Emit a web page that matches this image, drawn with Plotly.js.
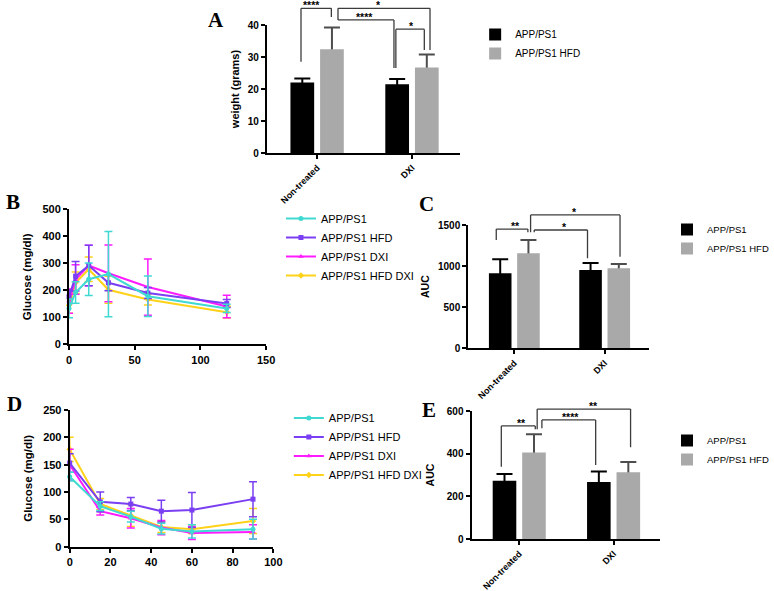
<!DOCTYPE html>
<html>
<head>
<meta charset="utf-8">
<script src="https://cdn.plot.ly/plotly-3.0.1.min.js"></script>
<style>html,body{margin:0;padding:0;background:#fff}#chart{width:774px;height:591px}</style>
</head>
<body>
<div id="chart"></div>
<script>
// ---------------- DATA ----------------
// bar panels (A, C, E)
const groups = ["Non-treated", "DXI"];
const barNames = ["APP/PS1", "APP/PS1 HFD"];

// Panel A: body weight (grams)
const weightAPP = [22.0, 21.5];
const weightAPPerr = [1.3, 1.6];
const weightHFD = [32.4, 26.7];
const weightHFDerr = [6.8, 4.1];

// Panel B: glucose tolerance test (mg/dl)
const lineNames = ["APP/PS1", "APP/PS1 HFD", "APP/PS1 DXI", "APP/PS1 HFD DXI"];
const gttTime = [0, 5, 15, 30, 60, 120];
const gttAPP = [133, 192, 241, 260, 178, 133];
const gttAPPerr = [35, 40, 60, 158, 75, 15];
const gttHFD = [176, 252, 292, 228, 190, 151];
const gttHFDerr = [25, 55, 75, 30, 20, 15];
const gttDXI = [160, 240, 292, 263, 212, 140];
const gttDXIerr = [45, 55, 75, 105, 104, 42];
const gttHFDDXI = [145, 228, 278, 202, 166, 119];
const gttHFDDXIerr = [30, 40, 45, 50, 20, 22];

// Panel C: GTT area under curve
const aucGttAPP = [912, 953];
const aucGttAPPerr = [171, 85];
const aucGttHFD = [1156, 973];
const aucGttHFDerr = [162, 53];

// Panel D: insulin tolerance test (mg/dl)
const ittTime = [0, 15, 30, 45, 60, 90];
const ittAPP = [128, 74, 55, 33, 28, 32];
const ittAPPerr = [8, 8, 10, 10, 12, 18];
const ittHFD = [153, 82, 78, 65, 67, 87];
const ittHFDerr = [17, 18, 12, 20, 32, 32];
const ittDXI = [150, 65, 52, 35, 25, 27];
const ittDXIerr = [28, 7, 18, 13, 12, 13];
const ittHFDDXI = [178, 78, 57, 36, 32, 47];
const ittHFDDXIerr = [22, 10, 20, 10, 8, 23];

// Panel E: ITT area under curve
const aucIttAPP = [273, 267];
const aucIttAPPerr = [32, 49];
const aucIttHFD = [406, 313];
const aucIttHFDerr = [85, 48];

// significance brackets: [x0, x1, yTop, yLeftEnd, yRightEnd, label, labelX]
const sigA = [
  [-0.17, 0.15, 45.2, 28.5, 42.5, "****", -0.06],
  [0.22, 1.19, 45.2, 42.5, 32.2, "*", 0.65],
  [0.22, 0.81, 41.6, 42.5, 26.6, "****", 0.50],
  [0.83, 1.13, 38.7, 26.6, 32.2, "*", 0.99]
];
const sigC = [
  [-0.20, 0.15, 1451, 1318, 1411, "**", 0.01],
  [0.18, 1.17, 1622, 1411, 1114, "*", 0.67],
  [0.22, 0.81, 1439, 1411, 1095, "*", 0.55]
];
const sigE = [
  [-0.19, 0.17, 530, 339, 514, "**", 0.02],
  [0.19, 1.18, 609, 514, 430, "**", 0.79],
  [0.24, 0.81, 558, 519, 347, "****", 0.54]
];

// ---------------- STYLE / GEOMETRY ----------------
const W = 774, H = 591;
const px2x = p => p / W;
const px2y = p => 1 - p / H;
const FONT = "Arial, 'Liberation Sans', Helvetica, sans-serif";
const SERIF = "'Times New Roman', 'Liberation Serif', serif";
const BLACK = "#000000", GREY = "#a9a9a9", ERRGREY = "#4d4d4d", BRACKET = "#3c3c3c";
const lineColors = ["#3fd9d2", "#7a3ff2", "#ff1aff", "#ffd21a"];
const lineSymbols = ["circle", "square", "triangle-up", "diamond"];

const panels = {
  A: {xa: "x",  ya: "y",  xdom: [270.7, 467], ydom: [153, 25], xr: [-0.53, 1.51], yr: [0, 40]},
  B: {xa: "x2", ya: "y2", xdom: [70, 270], ydom: [344.3, 209.3], xr: [0, 150], yr: [0, 500]},
  C: {xa: "x3", ya: "y3", xdom: [475, 658.3], ydom: [348.3, 225], xr: [-0.51, 1.49], yr: [0, 1500]},
  D: {xa: "x4", ya: "y4", xdom: [70.7, 277.3], ydom: [546.7, 410], xr: [0, 100], yr: [0, 250]},
  E: {xa: "x5", ya: "y5", xdom: [478.3, 670], ydom: [539, 411], xr: [-0.506, 1.497], yr: [0, 600]}
};

function yToPaper(p, v) {
  const d0 = px2y(p.ydom[0]), d1 = px2y(p.ydom[1]);
  return d0 + (v - p.yr[0]) / (p.yr[1] - p.yr[0]) * (d1 - d0);
}

// ---------------- TRACES ----------------
function barTraces(p, legendId, vA, eA, vB, eB) {
  const holder = (vals, errs, grp, col) => ({
    type: "bar", x: groups, y: vals, xaxis: p.xa, yaxis: p.ya, offsetgroup: grp,
    marker: {color: "rgba(0,0,0,0)", line: {width: 0}},
    error_y: {type: "data", array: errs, symmetric: true, color: col, thickness: 2, width: 8},
    showlegend: false, hoverinfo: "skip", legend: legendId
  });
  const bar = (vals, name, grp, col) => ({
    type: "bar", x: groups, y: vals, name: name, xaxis: p.xa, yaxis: p.ya, offsetgroup: grp,
    marker: {color: col, line: {width: 0}}, legend: legendId
  });
  return [holder(vA, eA, "a", BLACK), holder(vB, eB, "b", ERRGREY),
          bar(vA, barNames[0], "a", BLACK), bar(vB, barNames[1], "b", GREY)];
}

function lineTraces(p, legendId, t, ys, errs) {
  const out = [];
  for (let i = ys.length - 1; i >= 0; i--) {
    out.push({
      type: "scatter", mode: "lines+markers", x: t, y: ys[i], name: lineNames[i],
      xaxis: p.xa, yaxis: p.ya, legend: legendId, cliponaxis: false,
      line: {color: lineColors[i], width: 2},
      marker: {color: lineColors[i], size: 5, symbol: lineSymbols[i]},
      error_y: {type: "data", array: errs[i], symmetric: true, color: lineColors[i], thickness: 1.5, width: 4}
    });
  }
  return out;
}

const data = [].concat(
  barTraces(panels.A, "legend", weightAPP, weightAPPerr, weightHFD, weightHFDerr),
  lineTraces(panels.B, "legend2", gttTime, [gttAPP, gttHFD, gttDXI, gttHFDDXI], [gttAPPerr, gttHFDerr, gttDXIerr, gttHFDDXIerr]),
  barTraces(panels.C, "legend3", aucGttAPP, aucGttAPPerr, aucGttHFD, aucGttHFDerr),
  lineTraces(panels.D, "legend4", ittTime, [ittAPP, ittHFD, ittDXI, ittHFDDXI], [ittAPPerr, ittHFDerr, ittDXIerr, ittHFDDXIerr]),
  barTraces(panels.E, "legend5", aucIttAPP, aucIttAPPerr, aucIttHFD, aucIttHFDerr)
);

// ---------------- LAYOUT ----------------
function axisBase(extra) {
  return Object.assign({
    showline: true, linecolor: BLACK, linewidth: 2, mirror: false,
    ticks: "outside", ticklen: 4, tickwidth: 2, tickcolor: BLACK,
    showgrid: false, zeroline: false, fixedrange: true, automargin: false,
    tickfont: {family: FONT, size: 10, color: BLACK, weight: "bold"}
  }, extra);
}

const layout = {
  width: W, height: H, margin: {l: 0, r: 0, t: 0, b: 0},
  paper_bgcolor: "#ffffff", plot_bgcolor: "rgba(0,0,0,0)",
  font: {family: FONT, color: BLACK},
  barmode: "group", bargap: 0.375, bargroupgap: 0.2,
  shapes: [], annotations: []
};

function setAxes(key, xExtra, yExtra, ytitle, standoff, titleSize) {
  const p = panels[key];
  const xn = p.xa === "x" ? "xaxis" : "xaxis" + p.xa.slice(1);
  const yn = p.ya === "y" ? "yaxis" : "yaxis" + p.ya.slice(1);
  layout[xn] = axisBase(Object.assign({domain: [px2x(p.xdom[0]), px2x(p.xdom[1])], range: p.xr, anchor: p.ya}, xExtra));
  layout[yn] = axisBase(Object.assign({
    domain: [px2y(p.ydom[0]), px2y(p.ydom[1])], range: p.yr, anchor: p.xa,
    title: {text: ytitle, standoff: standoff, font: {family: FONT, size: titleSize, color: BLACK, weight: "bold"}}
  }, yExtra));
}

const catX = {type: "category", tickangle: -45, tickfont: {family: FONT, size: 9, color: BLACK, weight: "bold"}};
setAxes("A", catX, {tickvals: [0, 10, 20, 30, 40]}, "weight (grams)", 6, 11);
setAxes("B", {tickvals: [0, 50, 100, 150], tickfont: {family: FONT, size: 11, color: BLACK, weight: "bold"}},
        {tickvals: [0, 100, 200, 300, 400, 500], tickfont: {family: FONT, size: 11, color: BLACK, weight: "bold"}}, "Glucose (mg/dl)", 8, 11.5);
setAxes("C", catX, {tickvals: [0, 500, 1000, 1500]}, "AUC", 6, 10.5);
setAxes("D", {tickvals: [0, 20, 40, 60, 80, 100], tickfont: {family: FONT, size: 11, color: BLACK, weight: "bold"}},
        {tickvals: [0, 50, 100, 150, 200, 250], tickfont: {family: FONT, size: 11, color: BLACK, weight: "bold"}}, "Glucose (mg/dl)", 8, 11.5);
setAxes("E", catX, {tickvals: [0, 200, 400, 600]}, "AUC", 10, 10.5);

// legends
function legendAt(xpx, ypx, size, reversed) {
  return {x: px2x(xpx), y: px2y(ypx), xanchor: "left", yanchor: "top",
          bgcolor: "rgba(0,0,0,0)", borderwidth: 0,
          traceorder: reversed ? "reversed" : "normal",
          font: {family: FONT, size: size, color: BLACK}};
}
layout.legend = legendAt(482, 20, 10, false);
layout.legend2 = legendAt(285, 204, 11, true);
layout.legend3 = legendAt(677, 215, 9.5, false);
layout.legend4 = legendAt(293, 403.5, 11, true);
layout.legend5 = legendAt(677, 426, 9.5, false);

// significance brackets
function addBrackets(p, list) {
  list.forEach(b => {
    const [x0, x1, yTop, yL, yR, label, lx] = b;
    const ln = {color: BRACKET, width: 1.3};
    const common = {type: "line", xref: p.xa, yref: "paper", line: ln};
    layout.shapes.push(Object.assign({x0: x0, x1: x0, y0: yToPaper(p, yL), y1: yToPaper(p, yTop)}, common));
    layout.shapes.push(Object.assign({x0: x0, x1: x1, y0: yToPaper(p, yTop), y1: yToPaper(p, yTop)}, common));
    layout.shapes.push(Object.assign({x0: x1, x1: x1, y0: yToPaper(p, yTop), y1: yToPaper(p, yR)}, common));
    layout.annotations.push({
      text: label, xref: p.xa, yref: "paper", x: lx, y: yToPaper(p, yTop),
      xanchor: "center", yanchor: "middle", yshift: 3, showarrow: false,
      font: {family: FONT, size: 10.5, color: BLACK, weight: "bold"}
    });
  });
}
addBrackets(panels.A, sigA);
addBrackets(panels.C, sigC);
addBrackets(panels.E, sigE);

// panel letters
[["A", 219, 20], ["B", 13, 202], ["C", 433, 204], ["D", 15, 404], ["E", 435, 410]].forEach(l => {
  layout.annotations.push({
    text: l[0], xref: "paper", yref: "paper", x: px2x(l[1]), y: px2y(l[2]),
    xanchor: "center", yanchor: "middle", showarrow: false,
    font: {family: SERIF, size: 21, color: BLACK, weight: "bold"}
  });
});

Plotly.newPlot("chart", data, layout, {displayModeBar: false, staticPlot: true});
</script>
</body>
</html>
